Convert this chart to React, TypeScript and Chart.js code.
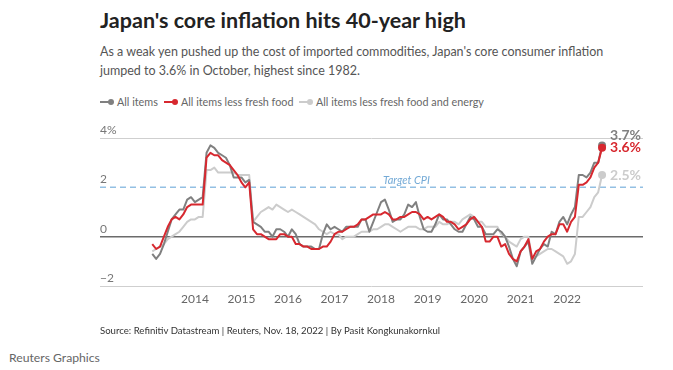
import React, { useEffect, useRef } from 'react';
import { Chart, registerables } from 'chart.js';

Chart.register(...registerables);

const FONT = 'Lato, "Noto Sans", sans-serif';

// Monthly series, first value = Feb 2013, last value = Oct 2022
const START_YEAR = 2013;
const START_MONTH = 2;

const allItems = [
  // 2013 Feb-Dec
  -0.7, -0.9, -0.7, -0.3, 0.2, 0.7, 0.9, 1.1, 1.1, 1.5, 1.6,
  // 2014
  1.4, 1.5, 1.6, 3.4, 3.7, 3.6, 3.4, 3.3, 3.2, 2.9, 2.4, 2.4,
  // 2015
  2.4, 2.2, 2.3, 0.6, 0.5, 0.4, 0.2, 0.2, 0.0, 0.3, 0.3, 0.2,
  // 2016
  0.0, 0.3, 0.1, -0.3, -0.4, -0.4, -0.4, -0.5, -0.5, 0.1, 0.5, 0.3,
  // 2017
  0.4, 0.3, 0.2, 0.4, 0.4, 0.4, 0.4, 0.7, 0.7, 0.2, 0.6, 1.0,
  // 2018
  1.4, 1.5, 1.1, 0.6, 0.7, 0.7, 0.9, 1.3, 1.2, 1.4, 0.8, 0.3,
  // 2019
  0.2, 0.2, 0.5, 0.9, 0.7, 0.7, 0.5, 0.3, 0.2, 0.2, 0.5, 0.8,
  // 2020
  0.7, 0.4, 0.4, 0.1, 0.1, 0.1, 0.3, 0.2, 0.0, -0.4, -0.9, -1.2,
  // 2021
  -0.6, -0.4, -0.2, -1.1, -0.8, -0.5, -0.3, -0.4, 0.2, 0.1, 0.6, 0.8,
  // 2022 Jan-Oct
  0.5, 0.9, 1.2, 2.5, 2.5, 2.4, 2.6, 3.0, 3.0, 3.7,
];

const lessFreshFood = [
  -0.3, -0.5, -0.4, 0.0, 0.4, 0.7, 0.8, 0.7, 0.9, 1.2, 1.3,
  1.3, 1.3, 1.3, 3.2, 3.4, 3.3, 3.3, 3.1, 3.0, 2.9, 2.7, 2.5,
  2.2, 2.0, 2.2, 0.3, 0.1, 0.1, 0.0, -0.1, -0.1, -0.1, 0.1, 0.1,
  0.0, 0.0, -0.3, -0.3, -0.4, -0.4, -0.5, -0.5, -0.5, -0.4, -0.4, -0.2,
  0.1, 0.2, 0.2, 0.3, 0.4, 0.4, 0.5, 0.7, 0.7, 0.8, 0.9, 0.9,
  0.9, 1.0, 0.9, 0.7, 0.7, 0.8, 0.8, 0.9, 1.0, 1.0, 0.9, 0.7,
  0.8, 0.7, 0.8, 0.9, 0.8, 0.6, 0.6, 0.5, 0.3, 0.4, 0.5, 0.7,
  0.8, 0.6, 0.4, -0.2, -0.2, 0.0, 0.0, -0.4, -0.3, -0.7, -0.9, -1.0,
  -0.6, -0.4, -0.1, -0.9, -0.6, -0.5, -0.2, 0.0, 0.1, 0.1, 0.5, 0.5,
  0.2, 0.6, 0.8, 2.1, 2.1, 2.2, 2.4, 2.8, 3.0, 3.6,
];

const lessFreshFoodEnergy = [
  -0.6, -0.5, -0.4, -0.3, -0.1, 0.0, 0.1, 0.2, 0.4, 0.6, 0.7,
  0.7, 0.8, 0.8, 2.7, 2.7, 2.8, 2.6, 2.6, 2.6, 2.6, 2.6, 2.5,
  2.5, 2.5, 2.5, 0.6, 0.8, 1.0, 1.1, 1.2, 1.1, 1.3, 1.2, 1.1,
  1.0, 1.1, 1.0, 0.9, 0.8, 0.7, 0.6, 0.5, 0.3, 0.2, 0.1, 0.2,
  0.1, 0.1, -0.1, 0.0, 0.0, 0.0, 0.1, 0.2, 0.2, 0.2, 0.3, 0.3,
  0.4, 0.5, 0.5, 0.4, 0.3, 0.2, 0.3, 0.4, 0.4, 0.4, 0.3, 0.3,
  0.4, 0.4, 0.4, 0.6, 0.5, 0.5, 0.6, 0.6, 0.5, 0.7, 0.8, 0.9,
  0.8, 0.6, 0.6, 0.4, 0.4, 0.4, 0.4, 0.1, 0.0, -0.2, -0.3, -0.4,
  -0.1, 0.0, 0.0, -0.9, -0.8, -0.7, -0.6, -0.5, -0.5, -0.6, -0.7, -0.8,
  -1.1, -1.0, -0.7, 0.8, 0.8, 1.0, 1.2, 1.6, 1.8, 2.5,
];

const yearTicks = [2014, 2015, 2016, 2017, 2018, 2019, 2020, 2021, 2022];
const yTicks = [-2, 0, 2, 4];
const targetCPI = 2;
const targetLabel = 'Target CPI';
const seriesNames = ['All items', 'All items less fresh food', 'All items less fresh food and energy'];

const COLORS = {
  all: '#808080',
  red: '#d7282f',
  light: '#cccccc',
};

function toPoints(values: number[]) {
  return values.map((v, i) => ({ x: START_YEAR + (START_MONTH - 1 + i) / 12, y: v }));
}

const targetPlugin = {
  id: 'targetLine',
  beforeDatasetsDraw(chart: any) {
    const { ctx, chartArea, scales } = chart;
    const y = scales.y.getPixelForValue(targetCPI);
    ctx.save();
    ctx.strokeStyle = '#93c0e3';
    ctx.lineWidth = 1.5;
    ctx.setLineDash([6, 4]);
    ctx.beginPath();
    ctx.moveTo(chartArea.left, y);
    ctx.lineTo(chartArea.right, y);
    ctx.stroke();
    ctx.setLineDash([]);
    ctx.font = `italic 11px ${FONT}`;
    ctx.fillStyle = '#74aad6';
    ctx.textAlign = 'left';
    ctx.textBaseline = 'middle';
    ctx.fillText(targetLabel, scales.x.getPixelForValue(2018.04), y - 7);
    ctx.restore();
  },
};

const endPlugin = {
  id: 'endLabels',
  afterDatasetsDraw(chart: any) {
    const { ctx } = chart;
    const n = chart.data.datasets.length;
    for (let i = n - 1; i >= 0; i--) {
      const ds = chart.data.datasets[i];
      const meta = chart.getDatasetMeta(i);
      const pt = meta.data[meta.data.length - 1];
      const last = ds.data[ds.data.length - 1].y;
      ctx.save();
      ctx.fillStyle = ds.borderColor;
      ctx.beginPath();
      ctx.arc(pt.x, pt.y, 4, 0, Math.PI * 2);
      ctx.fill();
      ctx.font = `bold 14px ${FONT}`;
      ctx.textAlign = 'left';
      ctx.textBaseline = 'middle';
      ctx.fillText(`${last.toFixed(1)}%`, pt.x + 8, pt.y + (ds.labelShift || 0));
      ctx.restore();
    }
  },
};

function LegendItem({ left, color, text }: { left: number; color: string; text: string }) {
  return (
    <div style={{ position: 'absolute', left, top: 95, height: 14, whiteSpace: 'nowrap' }}>
      <div style={{ position: 'absolute', left: 0, top: 6, width: 11, height: 2, background: color }} />
      <div style={{ position: 'absolute', left: 8, top: 4, width: 6, height: 6, borderRadius: 3, background: color }} />
      <div style={{ position: 'absolute', left: 17, top: 0, fontSize: 10.8, lineHeight: '14px', color: '#666' }}>{text}</div>
    </div>
  );
}

export default function App() {
  const canvasRef = useRef<HTMLCanvasElement | null>(null);

  useEffect(() => {
    const canvas = canvasRef.current;
    if (!canvas) return;
    const chart = new Chart(canvas, {
      type: 'line',
      data: {
        datasets: [
          { label: seriesNames[1], data: toPoints(lessFreshFood), borderColor: COLORS.red, backgroundColor: COLORS.red, labelShift: 0 } as any,
          { label: seriesNames[0], data: toPoints(allItems), borderColor: COLORS.all, backgroundColor: COLORS.all, labelShift: -10 } as any,
          { label: seriesNames[2], data: toPoints(lessFreshFoodEnergy), borderColor: COLORS.light, backgroundColor: COLORS.light, labelShift: 0 } as any,
        ],
      },
      options: {
        responsive: false,
        animation: false,
        devicePixelRatio: 1,
        layout: { padding: { left: 10, right: 30, top: 28, bottom: 14 } },
        plugins: { legend: { display: false }, tooltip: { enabled: false } },
        elements: {
          point: { radius: 0 },
          line: { tension: 0, borderWidth: 2, borderJoinStyle: 'round' },
        },
        scales: {
          x: {
            type: 'linear',
            min: 2011.96,
            max: 2023.63,
            grid: { display: false, drawTicks: false },
            border: { display: false },
            afterBuildTicks: (s: any) => {
              s.ticks = yearTicks.map((v) => ({ value: v }));
            },
            afterFit: (s: any) => {
              s.height = 25;
            },
            ticks: {
              color: '#666',
              font: { family: FONT, size: 12 },
              padding: 6,
              maxRotation: 0,
              autoSkip: false,
              callback: (v: any) => String(v),
            },
          },
          y: {
            min: -2,
            max: 4,
            afterBuildTicks: (s: any) => {
              s.ticks = yTicks.map((v) => ({ value: v }));
            },
            afterFit: (s: any) => {
              s.width = 0;
            },
            grid: {
              drawTicks: false,
              color: (c: any) => (c.tick && c.tick.value === 0 ? '#6b6b6b' : c.tick && c.tick.value === targetCPI ? 'rgba(0,0,0,0)' : '#cfcfcf'),
              lineWidth: (c: any) => (c.tick && c.tick.value === 0 ? 1.5 : 1),
            },
            border: { display: false },
            ticks: {
              mirror: true,
              padding: 0,
              labelOffset: -8,
              color: '#777',
              font: { family: FONT, size: 12 },
              callback: (v: any) => (v === 4 ? '4%' : v < 0 ? '\u2212' + Math.abs(v) : String(v)),
            },
          },
        },
      } as any,
      plugins: [targetPlugin, endPlugin],
    });
    return () => chart.destroy();
  }, []);

  return (
    <div style={{ position: 'absolute', left: 0, top: 0, width: 673, height: 370, background: '#fff', fontFamily: FONT, overflow: 'hidden' }}>
      <div style={{ position: 'absolute', left: 100, top: 7, fontSize: 21.5, lineHeight: '27px', fontWeight: 700, color: '#222', whiteSpace: 'nowrap' }}>
        Japan's core inflation hits 40-year high
      </div>
      <div style={{ position: 'absolute', left: 100, top: 42, fontSize: 12.5, lineHeight: '19px', color: '#555', whiteSpace: 'nowrap' }}>
        As a weak yen pushed up the cost of imported commodities, Japan's core consumer inflation
        <br />
        jumped to 3.6% in October, highest since 1982.
      </div>
      <LegendItem left={100} color={COLORS.all} text={seriesNames[0]} />
      <LegendItem left={164} color={COLORS.red} text={seriesNames[1]} />
      <LegendItem left={299} color={COLORS.light} text={seriesNames[2]} />
      <canvas ref={canvasRef} width={583} height={215} style={{ position: 'absolute', left: 90, top: 110, width: 583, height: 215 }} />
      <div style={{ position: 'absolute', left: 100, top: 324, fontSize: 9.6, lineHeight: '13px', color: '#333', whiteSpace: 'nowrap' }}>
        Source: Refinitiv Datastream | Reuters, Nov. 18, 2022 | By Pasit Kongkunakornkul
      </div>
      <div style={{ position: 'absolute', left: 9, top: 350, fontSize: 12.2, lineHeight: '16px', color: '#666', whiteSpace: 'nowrap' }}>
        Reuters Graphics
      </div>
    </div>
  );
}
